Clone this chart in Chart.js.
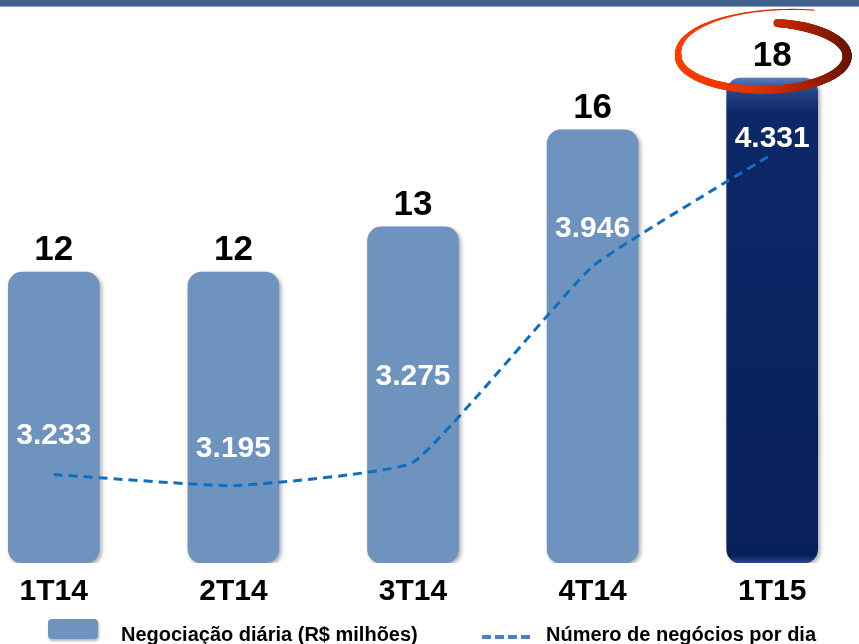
<!DOCTYPE html>
<html>
<head>
<meta charset="utf-8">
<script src="https://cdn.jsdelivr.net/npm/chart.js@4.4.1/dist/chart.umd.min.js"></script>
<style>
html,body{margin:0;padding:0;background:#fff;overflow:hidden;width:859px;height:644px;}
#band{position:absolute;left:0;top:0;width:859px;height:6px;background:#41618e;border-bottom:1px solid #8fa3c0;z-index:2;}
#wrap{position:absolute;left:-36px;top:0;width:898px;height:644px;}
</style>
</head>
<body>
<div id="band"></div>
<div id="wrap"><canvas id="c" width="898" height="644"></canvas></div>
<script>
// ---- data ----
const categories = ['1T14', '2T14', '3T14', '4T14', '1T15'];
const dailyTrading = [12.0, 12.0, 13.4, 16.4, 18.0];      // Negociação diária (R$ milhões)
const tradesPerDay = [3233, 3195, 3275, 3946, 4331];      // Número de negócios por dia
const barSeriesName = 'Negociação diária (R$ milhões)';
const lineSeriesName = 'Número de negócios por dia';
const barAxisMin = 3, barAxisMax = 19.8;
const lineAxisMin = 2930, lineAxisMax = 4790;

// ---- styles ----
const FONT = "'Liberation Sans', Arial, sans-serif";
const BAR_COLOR = '#6e93be';
const LINE_COLOR = '#0e6fc1';
const lineLabelDy = [-39, -37, -86, -38, -15];

function fmtPt(v) {
  return String(Math.round(v)).replace(/\B(?=(\d{3})+(?!\d))/g, '.');
}

function barFill(ctx) {
  if (ctx.type !== 'data') return BAR_COLOR;
  if (ctx.dataIndex !== categories.length - 1) return BAR_COLOR;
  const chart = ctx.chart;
  const area = chart.chartArea;
  const ys = chart.scales.y;
  if (!area || !ys) return '#0b2563';
  const top = ys.getPixelForValue(ctx.raw);
  const bottom = area.bottom;
  if (!isFinite(top) || bottom <= top) return '#0b2563';
  const g = chart.ctx.createLinearGradient(0, top, 0, bottom);
  g.addColorStop(0, '#5d7cb8');
  g.addColorStop(0.025, '#27458a');
  g.addColorStop(0.07, '#0c2867');
  g.addColorStop(0.5, '#0a2462');
  g.addColorStop(0.94, '#08215d');
  g.addColorStop(0.985, '#07205a');
  g.addColorStop(1, '#2b4a8c');
  return g;
}

function widthAt(th) {
  const pts = [[-66, 0.8], [-107, 1.6], [-140, 3.2], [-180, 6.5], [-270, 7.5], [-360, 9], [-420, 9], [-440, 8]];
  for (let i = 0; i < pts.length - 1; i++) {
    const a = pts[i], b = pts[i + 1];
    if (th <= a[0] && th >= b[0]) {
      const t = (a[0] - th) / (a[0] - b[0]);
      return a[1] + (b[1] - a[1]) * t;
    }
  }
  return 8;
}

function drawSwoosh(ctx, cx, cy, rx, ry) {
  const grad = ctx.createLinearGradient(cx - rx, 0, cx + rx, 0);
  grad.addColorStop(0, '#ff3c00');
  grad.addColorStop(0.45, '#e03300');
  grad.addColorStop(0.75, '#a82000');
  grad.addColorStop(1, '#6b1400');
  ctx.save();
  ctx.strokeStyle = grad;
  ctx.lineCap = 'round';
  const th0 = -66, th1 = -440, N = 400;
  let prev = null;
  for (let i = 0; i <= N; i++) {
    const th = th0 + (th1 - th0) * i / N;
    const s = th > -180 ? 1 + 0.5 * Math.pow((th + 180) / 114, 1.5) : 1;
    const r = th * Math.PI / 180;
    const p = { x: cx + rx * s * Math.cos(r), y: cy + ry * s * Math.sin(r) };
    if (prev) {
      ctx.lineWidth = widthAt(th);
      ctx.beginPath();
      ctx.moveTo(prev.x, prev.y);
      ctx.lineTo(p.x, p.y);
      ctx.stroke();
    }
    prev = p;
  }
  ctx.restore();
}

const shadowPlugin = {
  id: 'barShadow',
  beforeDatasetDraw(chart, args) {
    if (args.meta.type !== 'bar') return;
    const ctx = chart.ctx;
    ctx.save();
    ctx.shadowColor = 'rgba(0,0,0,0.35)';
    ctx.shadowBlur = 4;
    ctx.shadowOffsetX = 2;
    ctx.shadowOffsetY = 2;
  },
  afterDatasetDraw(chart, args) {
    if (args.meta.type !== 'bar') return;
    chart.ctx.restore();
  }
};

const labelPlugin = {
  id: 'labels',
  afterDatasetsDraw(chart) {
    const ctx = chart.ctx;
    const barMeta = chart.getDatasetMeta(1);
    const lineMeta = chart.getDatasetMeta(0);
    const barData = chart.data.datasets[1].data;
    const lineData = chart.data.datasets[0].data;
    ctx.save();
    ctx.textAlign = 'center';
    ctx.textBaseline = 'middle';
    ctx.fillStyle = '#000';
    ctx.font = 'bold 35px ' + FONT;
    barMeta.data.forEach((el, i) => {
      ctx.fillText(String(Math.round(barData[i])), el.x, el.y - 22);
    });
    ctx.fillStyle = '#fff';
    ctx.font = 'bold 30px ' + FONT;
    lineMeta.data.forEach((pt, i) => {
      const bx = barMeta.data[i].x;
      ctx.fillText(fmtPt(lineData[i]), bx, pt.y + lineLabelDy[i]);
    });
    ctx.restore();

    const last = barMeta.data[barMeta.data.length - 1];
    drawSwoosh(ctx, last.x - 9.5, last.y - 22, 84.5, 33.6);

    // legend
    ctx.save();
    const off = 36;
    ctx.shadowColor = 'rgba(0,0,0,0.3)';
    ctx.shadowBlur = 3;
    ctx.shadowOffsetX = 1;
    ctx.shadowOffsetY = 2;
    ctx.fillStyle = BAR_COLOR;
    ctx.beginPath();
    ctx.roundRect(48 + off, 619, 50, 20, 4);
    ctx.fill();
    ctx.restore();

    ctx.save();
    ctx.fillStyle = '#000';
    ctx.font = 'bold 20px ' + FONT;
    ctx.textAlign = 'left';
    ctx.textBaseline = 'alphabetic';
    ctx.fillText(chart.data.datasets[1].label, 121 + off, 641);
    ctx.fillText(chart.data.datasets[0].label, 546 + off, 641);
    ctx.strokeStyle = '#4d7dc2';
    ctx.lineWidth = 4;
    ctx.setLineDash([9, 4]);
    ctx.beginPath();
    ctx.moveTo(482 + off, 637);
    ctx.lineTo(532 + off, 637);
    ctx.stroke();
    ctx.restore();
  }
};

new Chart(document.getElementById('c'), {
  data: {
    labels: categories,
    datasets: [
      {
        type: 'line',
        label: lineSeriesName,
        data: tradesPerDay,
        yAxisID: 'y2',
        borderColor: LINE_COLOR,
        borderWidth: 3,
        borderDash: [9, 6],
        pointRadius: 0,
        tension: 0.12,
        fill: false,
        order: 0
      },
      {
        type: 'bar',
        label: barSeriesName,
        data: dailyTrading,
        yAxisID: 'y',
        base: barAxisMin,
        backgroundColor: barFill,
        borderRadius: 14,
        borderSkipped: false,
        barThickness: 91,
        order: 1
      }
    ]
  },
  options: {
    responsive: false,
    animation: false,
    devicePixelRatio: 1,
    layout: { padding: { top: 20, bottom: 23, left: 0, right: 0 } },
    plugins: { legend: { display: false }, tooltip: { enabled: false } },
    scales: {
      x: {
        grid: { display: false, drawTicks: false },
        border: { display: false },
        ticks: { color: '#000', padding: 11, font: { family: FONT, size: 30, weight: 'bold' } }
      },
      y: { display: false, min: barAxisMin, max: barAxisMax },
      y2: { display: false, min: lineAxisMin, max: lineAxisMax }
    }
  },
  plugins: [shadowPlugin, labelPlugin]
});
</script>
</body>
</html>
